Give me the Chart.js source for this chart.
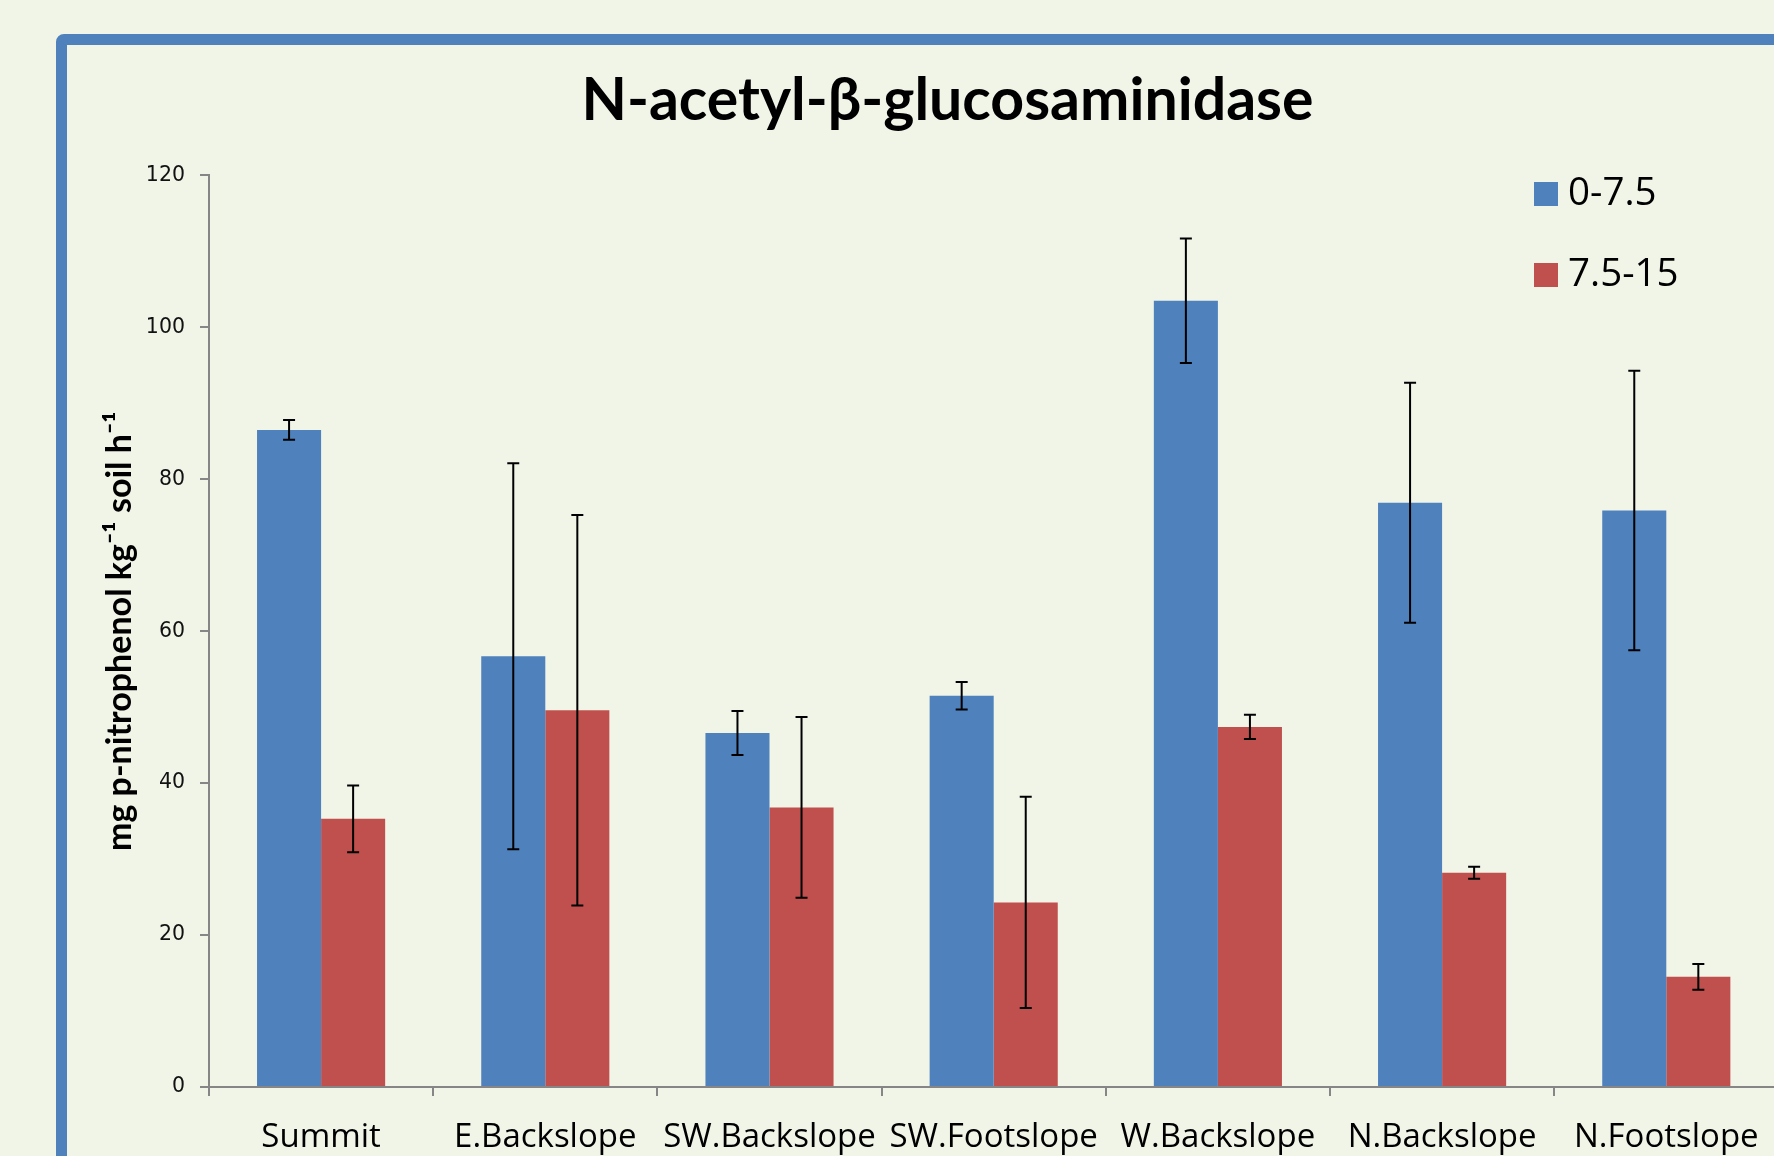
<!DOCTYPE html>
<html>
<head>
<meta charset="utf-8">
<title>N-acetyl-β-glucosaminidase</title>
<script src="https://cdn.jsdelivr.net/npm/chart.js@4.4.1/dist/chart.umd.min.js"></script>
<style>
  html, body { margin: 0; padding: 0; width: 1774px; height: 1156px; overflow: hidden; background: #F1F5E8; }
  #frame {
    position: absolute; left: 56px; top: 34px; width: 2000px; height: 1400px;
    border: 11px solid #4F81BD; border-radius: 8px; box-sizing: border-box;
  }
  #wrap { position: absolute; left: 0; top: 0; width: 1800px; height: 1200px; }
</style>
</head>
<body>
<div id="frame"></div>
<div id="wrap"><canvas id="chart" width="1800" height="1200"></canvas></div>
<script>
// data
const categories = ['Summit', 'E.Backslope', 'SW.Backslope', 'SW.Footslope', 'W.Backslope', 'N.Backslope', 'N.Footslope'];
const seriesNames = ['0-7.5', '7.5-15'];
const shallow = [86.5, 56.7, 46.6, 51.5, 103.5, 76.9, 75.9];
const shallowErr = [1.3, 25.4, 2.9, 1.8, 8.2, 15.8, 18.4];
const deep = [35.3, 49.6, 36.8, 24.3, 47.4, 28.2, 14.5];
const deepErr = [4.4, 25.7, 11.9, 13.9, 1.6, 0.8, 1.7];
const yMin = 0, yMax = 120, yStep = 20;

const blue = '#4F81BD';
const red = '#C0504D';
const axisGray = '#868686';

// error bars drawn from the bar elements and the y scale
const errorBars = {
  id: 'errorBars',
  afterDatasetsDraw(chart) {
    const ctx = chart.ctx;
    const y = chart.scales.y;
    ctx.save();
    ctx.strokeStyle = '#000';
    ctx.lineWidth = 2;
    chart.data.datasets.forEach((ds, i) => {
      const meta = chart.getDatasetMeta(i);
      meta.data.forEach((bar, j) => {
        const v = ds.data[j], e = ds.errors[j];
        const top = y.getPixelForValue(v + e);
        const bot = y.getPixelForValue(v - e);
        ctx.beginPath();
        ctx.moveTo(bar.x, top); ctx.lineTo(bar.x, bot);
        ctx.moveTo(bar.x - 6, top); ctx.lineTo(bar.x + 6, top);
        ctx.moveTo(bar.x - 6, bot); ctx.lineTo(bar.x + 6, bot);
        ctx.stroke();
      });
    });
    ctx.restore();
  }
};

// legend sitting in the top right of the plot, like the original
const boxLegend = {
  id: 'boxLegend',
  afterDraw(chart) {
    const ctx = chart.ctx;
    ctx.save();
    ctx.font = '38.5px "Open Sans"';
    ctx.textBaseline = 'middle';
    chart.data.datasets.forEach((ds, i) => {
      const top = 182 + i * 81;
      ctx.fillStyle = ds.backgroundColor;
      ctx.fillRect(1534, top, 24, 24);
      ctx.fillStyle = '#000';
      ctx.fillText(ds.label, 1568, top + 12);
    });
    ctx.restore();
  }
};

new Chart(document.getElementById('chart'), {
  type: 'bar',
  data: {
    labels: categories,
    datasets: [
      { label: seriesNames[0], data: shallow, errors: shallowErr, backgroundColor: blue },
      { label: seriesNames[1], data: deep, errors: deepErr, backgroundColor: red }
    ]
  },
  options: {
    responsive: false,
    animation: false,
    layout: { padding: { left: 99.6, right: 4.6, top: 0, bottom: 0 } },
    datasets: {
      bar: { categoryPercentage: 2 / 3.5, barPercentage: 1, borderWidth: 0 }
    },
    plugins: {
      legend: { display: false },
      tooltip: { enabled: false },
      title: {
        display: true,
        text: 'N-acetyl-β-glucosaminidase',
        color: '#000',
        font: { family: 'Lato', size: 59, weight: 'bold' },
        padding: { top: 65.6, bottom: 39 }
      }
    },
    scales: {
      x: {
        grid: { drawOnChartArea: false, tickLength: 9, color: axisGray, lineWidth: 2, offset: true },
        border: { color: axisGray, width: 2 },
        ticks: { color: '#000', padding: 22, font: { family: 'Open Sans', size: 33 }, maxRotation: 0, autoSkip: false },
        afterFit(s) { s.height = 113; }
      },
      y: {
        min: yMin, max: yMax,
        grid: { drawOnChartArea: false, tickLength: 9, color: axisGray, lineWidth: 2 },
        border: { color: axisGray, width: 2 },
        ticks: { stepSize: yStep, color: '#111', padding: 15, font: { family: 'DejaVu Sans', size: 20.5 } },
        title: {
          display: true,
          text: 'mg p-nitrophenol kg⁻¹ soil h⁻¹',
          color: '#000',
          font: { family: 'Lato', size: 34, weight: 'bold' },
          padding: { top: 0, bottom: 4 }
        },
        afterFit(s) { s.width = 209 - 99.6; }
      },
      // empty right-hand box so the title centres where the original did
      pad: {
        position: 'right', min: 0, max: 1,
        grid: { display: false }, border: { display: false }, ticks: { display: false },
        afterFit(s) { s.width = 17; }
      }
    }
  },
  plugins: [errorBars, boxLegend]
});
</script>
</body>
</html>
